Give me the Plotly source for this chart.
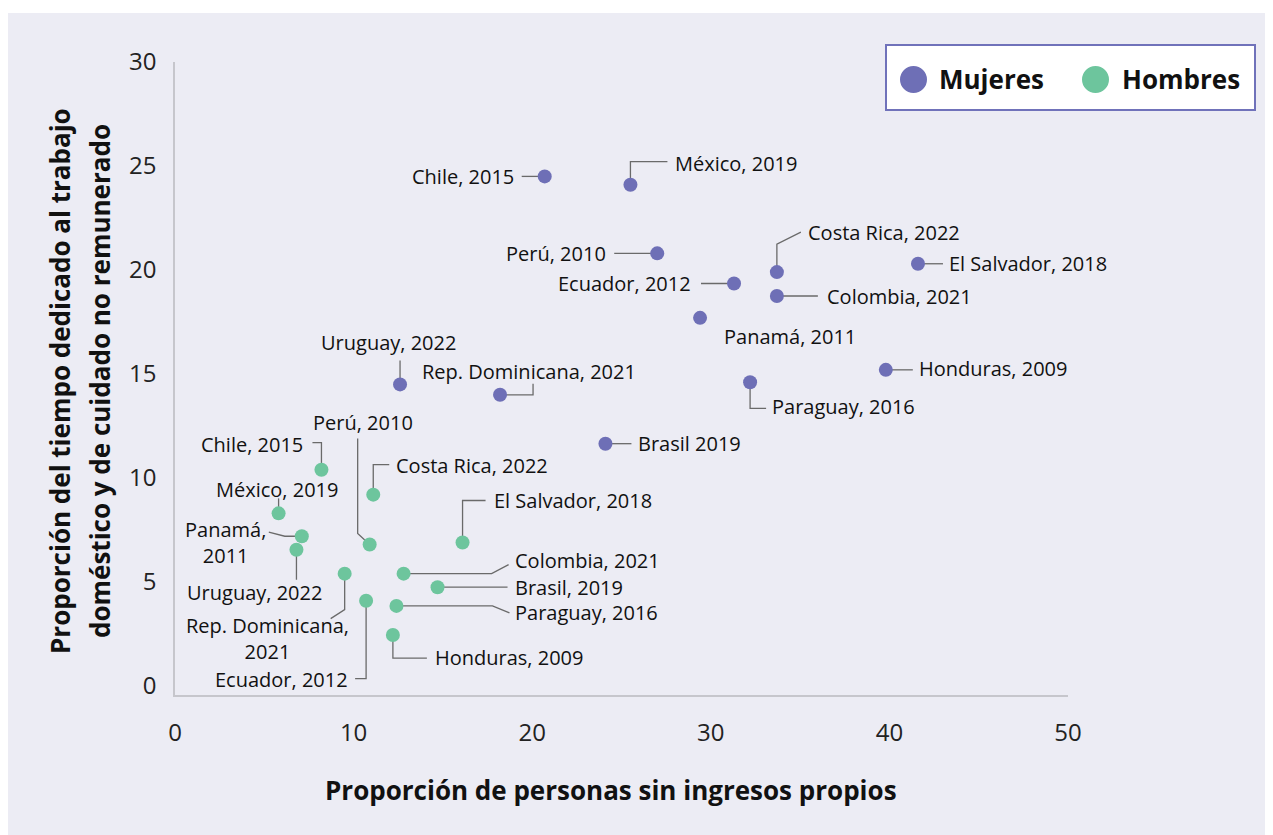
import plotly.graph_objects as go

# ---------------- data ----------------
countries = ["Chile, 2015", "México, 2019", "Perú, 2010", "Costa Rica, 2022",
             "El Salvador, 2018", "Ecuador, 2012", "Colombia, 2021", "Panamá, 2011",
             "Uruguay, 2022", "Rep. Dominicana, 2021", "Paraguay, 2016",
             "Honduras, 2009", "Brasil, 2019"]

mujeres_x = [20.7, 25.5, 27.0, 33.7, 41.6, 31.3, 33.7, 29.4, 12.6, 18.2, 32.2, 39.8, 24.1]
mujeres_y = [24.5, 24.1, 20.8, 19.9, 20.3, 19.35, 18.75, 17.7, 14.5, 14.0, 14.6, 15.2, 11.65]

hombres_x = [8.2, 5.8, 10.9, 11.1, 16.1, 10.7, 12.8, 7.1, 6.8, 9.5, 12.4, 12.2, 14.7]
hombres_y = [10.4, 8.3, 6.8, 9.2, 6.9, 4.1, 5.4, 7.2, 6.55, 5.4, 3.85, 2.45, 4.75]

mujeres_labels = ["Chile, 2015", "México, 2019", "Perú, 2010", "Costa Rica, 2022",
                  "El Salvador, 2018", "Ecuador, 2012", "Colombia, 2021", "Panamá, 2011",
                  "Uruguay, 2022", "Rep. Dominicana, 2021", "Paraguay, 2016",
                  "Honduras, 2009", "Brasil 2019"]
hombres_labels = ["Chile, 2015", "México, 2019", "Perú, 2010", "Costa Rica, 2022",
                  "El Salvador, 2018", "Ecuador, 2012", "Colombia, 2021", "Panamá,<br>2011",
                  "Uruguay, 2022", "Rep. Dominicana,<br>2021", "Paraguay, 2016",
                  "Honduras, 2009", "Brasil, 2019"]

series_names = ["Mujeres", "Hombres"]
x_ticks = [0, 10, 20, 30, 40, 50]
y_ticks = [0, 5, 10, 15, 20, 25, 30]

x_title = "Proporción de personas sin ingresos propios"
y_title_lines = ["Proporción del tiempo dedicado al trabajo",
                 "doméstico y de cuidado no remunerado"]

# ---------------- styling / layout geometry ----------------
PAGE_OFF = 8                      # default body margin of the html page
PAGE_W, PAGE_H = 1273, 835
W, H = PAGE_W - PAGE_OFF, PAGE_H - PAGE_OFF
PLOT_L, PLOT_R, PLOT_T, PLOT_B = 175, 1068, 62, 695   # page pixels
ML = PLOT_L - PAGE_OFF
MT = PLOT_T - PAGE_OFF
MR = W - (PLOT_R - PAGE_OFF)
MB = H - (PLOT_B - PAGE_OFF)
PLOT_W = PLOT_R - PLOT_L
PLOT_H = PLOT_B - PLOT_T
X_RANGE = [0, 50]
Y_RANGE = [-0.433, 30]
SX = PLOT_W / (X_RANGE[1] - X_RANGE[0])
SY = PLOT_H / (Y_RANGE[1] - Y_RANGE[0])

PURPLE = "#6E6FB6"
GREEN = "#6DC59D"
BG = "#ECECF4"
LINE = "#6a6a6a"
TXT = "#111111"
FONT = "Open Sans"
LABEL_SIZE = 20

# label placement: (connector path offsets in px, anchor offset px, xanchor)
# offsets: dx right, dy down
mujeres_place = [
    ([(0, 0), (-23, 0)], (-29, 0), "right"),
    ([(0, 0), (0, -23), (37, -23)], (43, -21), "left"),
    ([(0, 0), (-43, 0)], (-49, 0), "right"),
    ([(0, 0), (0, -28), (24, -40)], (29, -40), "left"),
    ([(0, 0), (25, 0)], (29, 0), "left"),
    ([(0, 0), (-33, 0)], (-41, 0), "right"),
    ([(0, 0), (41, 0)], (48, 0), "left"),
    (None, (22, 19), "left"),
    ([(0, 0), (0, -24)], (-12, -42), "center"),
    ([(0, 0), (33, 0), (33, -11)], (29, -23), "center"),
    ([(0, 0), (0, 26), (16, 26)], (20, 24), "left"),
    ([(0, 0), (27, 0)], (31, -1), "left"),
    ([(0, 0), (26, 0)], (31, 0), "left"),
]
hombres_place = [
    ([(0, 0), (0, -27), (-9, -27)], (-16, -25), "right"),
    ([(0, 0), (0, -15)], (-2, -24), "center"),
    ([(0, 0), (-12, -11), (-12, -106)], (-7, -122), "center"),
    ([(0, 0), (0, -30), (16, -30)], (21, -29), "left"),
    ([(0, 0), (0, -42), (23, -42)], (29, -42), "left"),
    ([(0, 0), (0, 78), (-11, 78)], (-16, 79), "right"),
    ([(0, 0), (88, 0), (105, -9)], (109, -13), "left"),
    ([(0, 0), (-17, 0), (-33, -4)], (-76, 6), "center"),
    ([(0, 0), (0, 30)], (-42, 43), "center"),
    ([(0, 0), (0, 36), (-14, 45)], (-77, 65), "center"),
    ([(0, 0), (96, 0), (113, 7)], (117, 7), "left"),
    ([(0, 0), (0, 23), (34, 23)], (40, 22), "left"),
    ([(0, 0), (70, 0)], (75, 0), "left"),
]

fig = go.Figure()
annotations = []


def add_series(xs, ys, labels, places, color, name):
    cx, cy = [], []
    for x, y, lab, (path, (ax, ay), xa) in zip(xs, ys, labels, places):
        if path:
            for dx, dy in path:
                cx.append(x + dx / SX)
                cy.append(y - dy / SY)
            cx.append(None)
            cy.append(None)
        annotations.append(dict(
            x=x, y=y, xref="x", yref="y", xshift=ax, yshift=-ay,
            text=lab, showarrow=False, xanchor=xa, yanchor="middle",
            align="center", font=dict(family=FONT, size=LABEL_SIZE, color=TXT)))
    fig.add_trace(go.Scatter(x=cx, y=cy, mode="lines",
                             line=dict(color=LINE, width=1.3),
                             hoverinfo="skip", showlegend=False))
    fig.add_trace(go.Scatter(x=xs, y=ys, mode="markers", name=name,
                             text=countries,
                             marker=dict(size=14, color=color, line=dict(width=0)),
                             showlegend=False))


add_series(mujeres_x, mujeres_y, mujeres_labels, mujeres_place, PURPLE, series_names[0])
add_series(hombres_x, hombres_y, hombres_labels, hombres_place, GREEN, series_names[1])


def px_x(px):
    return (px - PLOT_L) / PLOT_W


def px_y(py):
    return (PLOT_B - py) / PLOT_H


shapes = [
    dict(type="rect", xref="paper", yref="paper", layer="below",
         x0=px_x(PAGE_OFF - 2), x1=px_x(PAGE_W + 2), y0=px_y(PAGE_H + 2), y1=px_y(13),
         fillcolor=BG, line=dict(width=0)),
    # legend box
    dict(type="rect", xref="paper", yref="paper",
         x0=px_x(886), x1=px_x(1255), y0=px_y(110), y1=px_y(45),
         fillcolor="white", line=dict(color="#7072BA", width=2)),
    dict(type="circle", xref="paper", yref="paper",
         x0=px_x(900), x1=px_x(927), y0=px_y(93), y1=px_y(66),
         fillcolor=PURPLE, line=dict(width=0)),
    dict(type="circle", xref="paper", yref="paper",
         x0=px_x(1082), x1=px_x(1109), y0=px_y(93), y1=px_y(66),
         fillcolor=GREEN, line=dict(width=0)),
]

annotations += [
    dict(x=px_x(937), y=px_y(79), xref="paper", yref="paper", text="<b>Mujeres</b>",
         showarrow=False, xanchor="left", yanchor="middle",
         font=dict(family=FONT, size=26, color="#111")),
    dict(x=px_x(1120), y=px_y(79), xref="paper", yref="paper", text="<b>Hombres</b>",
         showarrow=False, xanchor="left", yanchor="middle",
         font=dict(family=FONT, size=26, color="#111")),
    dict(x=px_x(611), y=px_y(790), xref="paper", yref="paper", text="<b>" + x_title + "</b>",
         showarrow=False, xanchor="center", yanchor="middle",
         font=dict(family=FONT, size=26, color="#111")),
    dict(x=px_x(60), y=px_y(381), xref="paper", yref="paper", text="<b>" + y_title_lines[0] + "</b>",
         showarrow=False, xanchor="center", yanchor="middle", textangle=-90,
         font=dict(family=FONT, size=26, color="#111")),
    dict(x=px_x(100), y=px_y(381), xref="paper", yref="paper", text="<b>" + y_title_lines[1] + "</b>",
         showarrow=False, xanchor="center", yanchor="middle", textangle=-90,
         font=dict(family=FONT, size=26, color="#111")),
]

fig.update_layout(
    width=W, height=H,
    margin=dict(l=ML, r=MR, t=MT, b=MB, pad=0),
    paper_bgcolor="white",
    plot_bgcolor="rgba(0,0,0,0)",
    font=dict(family=FONT, color=TXT),
    showlegend=False,
    shapes=shapes,
    annotations=annotations,
    xaxis=dict(range=X_RANGE, tickvals=x_ticks, showgrid=False, zeroline=False,
               showline=True, linecolor="#c6c6cc", linewidth=1.5, ticks="",
               tickfont=dict(family=FONT, size=24, color="#222"),
               ticklabelstandoff=15, fixedrange=True),
    yaxis=dict(range=Y_RANGE, tickvals=y_ticks, showgrid=False, zeroline=False,
               showline=True, linecolor="#c6c6cc", linewidth=1.5, ticks="",
               tickfont=dict(family=FONT, size=24, color="#222"),
               ticklabelstandoff=12, fixedrange=True),
)

fig.write_html("out.html")
